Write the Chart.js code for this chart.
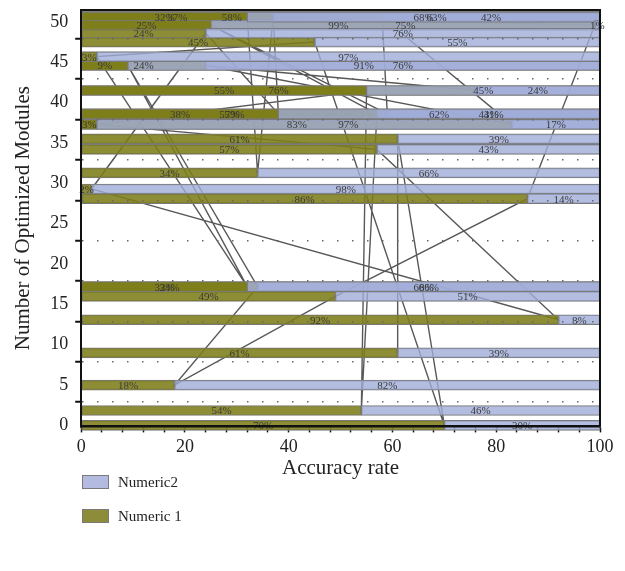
<!DOCTYPE html>
<html>
<head>
<meta charset="utf-8">
<script src="https://cdn.jsdelivr.net/npm/chart.js@4.4.0/dist/chart.umd.min.js"></script>
<style>
  html, body { margin: 0; padding: 0; background: #fff; }
  #wrap { position: relative; width: 625px; height: 571px; }
  #chart { position: absolute; left: 0; top: 0; }
  .legend { position: absolute; left: 82px; top: 470px; font-family: 'Liberation Serif', 'Times New Roman', serif; font-size: 15px; color: #222; }
  .legend .item { height: 24px; margin-bottom: 10px; display: flex; align-items: center; }
  .legend .box { display: inline-block; width: 25px; height: 12px; border: 1px solid #7a7a7a; margin-right: 9px; }
</style>
</head>
<body>
<div id="wrap">
  <canvas id="chart" width="625" height="481"></canvas>
  <div class="legend">
    <div class="item"><span class="box" style="background:#b3bce0"></span>Numeric2</div>
    <div class="item"><span class="box" style="background:#8d8c38"></span>Numeric 1</div>
  </div>
</div>
<script>
// rows in data order (series lines follow this order)
var yPos     = [41.5, 44.6, 37.3, 50.6, 38.6, 49.6, 38.6, 1.85, 41.5, 37.3, 34.2, 13.1, 29.3, 48.6, 38.6,
                50.6, 31.3, 50.6, 49.6, 28.1, 16.0, 5.0, 17.2, 44.6, 17.2, 45.7, 47.5, 0, 35.5, 9.0];
var numeric1 = [76, 24, 83, 58, 59, 25, 57, 54, 55, 3, 57, 92, 2, 24, 38,
                37, 34, 32, 99, 86, 49, 18, 34, 9, 32, 3, 45, 70, 61, 61];
var numeric2 = [24, 76, 17, 42, 41, 75, 43, 46, 45, 97, 43, 8, 98, 76, 62,
                63, 66, 68, 1, 14, 51, 82, 66, 91, 68, 97, 55, 30, 39, 39];
var xTicks = [0, 4, 8, 12, 16, 20, 24, 28, 32, 36, 40, 44, 48, 52, 56, 60, 64, 68, 72, 76, 80, 84, 88, 92, 96, 100];
var yTicks = [0, 5, 10, 15, 20, 25, 30, 35, 40, 45, 50];
var gridTicks = [2.9, 7.9, 12.9, 17.9, 22.9, 27.9, 32.9, 37.9, 42.9, 47.9];

var serif = "'Liberation Serif', 'Times New Roman', serif";
var yMin = -0.12, yMax = 51.48;

var n1Data = yPos.map(function(y, i) { return { y: y, x: [0, numeric1[i]] }; });
var n2Data = yPos.map(function(y, i) { return { y: y, x: [numeric1[i], numeric1[i] + numeric2[i]] }; });
var lineData = yPos.map(function(y, i) { return { x: numeric1[i], y: y }; });

var percentLabels = {
  id: 'percentLabels',
  afterDatasetsDraw: function(chart) {
    var ctx = chart.ctx;
    var sources = [numeric1, numeric2];
    ctx.save();
    ctx.font = '11px ' + serif;
    ctx.fillStyle = '#3a3a3a';
    ctx.textAlign = 'center';
    ctx.textBaseline = 'middle';
    [0, 1].forEach(function(di) {
      chart.getDatasetMeta(di).data.forEach(function(bar, i) {
        var p = bar.getProps(['x', 'y', 'base'], true);
        ctx.fillText(sources[di][i] + '%', (p.x + p.base) / 2, p.y + 1);
      });
    });
    ctx.restore();
  }
};

new Chart(document.getElementById('chart'), {
  data: {
    datasets: [{
      type: 'bar',
      label: 'Numeric 1',
      indexAxis: 'y',
      data: n1Data,
      backgroundColor: 'rgba(125,125,25,0.88)',
      borderColor: '#7a7a7a',
      borderWidth: 1,
      borderSkipped: false,
      barThickness: 10,
      grouped: false,
      clip: false,
      order: 2
    }, {
      type: 'bar',
      label: 'Numeric2',
      indexAxis: 'y',
      data: n2Data,
      backgroundColor: 'rgba(160,172,216,0.8)',
      borderColor: '#7a7a7a',
      borderWidth: 1,
      borderSkipped: false,
      barThickness: 10,
      grouped: false,
      clip: false,
      order: 1
    }, {
      type: 'line',
      label: 'series lines',
      data: lineData,
      borderColor: 'rgba(70,70,70,0.9)',
      borderWidth: 1.4,
      pointRadius: 0,
      tension: 0,
      fill: false,
      order: 10
    }]
  },
  options: {
    responsive: false,
    animation: false,
    layout: { padding: { top: 0, right: 25, left: 6, bottom: 0 } },
    plugins: {
      legend: { display: false },
      tooltip: { enabled: false }
    },
    scales: {
      x: {
        type: 'linear', position: 'bottom', min: 0, max: 100, offset: false,
        afterBuildTicks: function(s) { s.ticks = xTicks.map(function(v) { return { value: v }; }); },
        ticks: {
          autoSkip: false, maxRotation: 0, padding: 4,
          font: { family: serif, size: 18 }, color: '#222',
          callback: function(v) { return v % 20 === 0 ? v : ''; }
        },
        grid: { offset: false, drawOnChartArea: false, drawTicks: true, tickLength: 6, tickColor: '#111', tickWidth: 1.5 },
        border: { color: '#111', width: 2.5, z: 2 },
        title: { display: true, text: 'Accuracy rate', font: { family: serif, size: 21, lineHeight: 1.0 }, color: '#222', padding: { top: -4, bottom: 2 } }
      },
      y: {
        type: 'linear', position: 'left', min: yMin, max: yMax, offset: false,
        afterBuildTicks: function(s) {
          s.ticks = yTicks.concat(gridTicks).sort(function(a, b) { return a - b; })
            .map(function(v) { return { value: v }; });
        },
        ticks: {
          autoSkip: false, padding: 7,
          font: { family: serif, size: 18, lineHeight: 0.33 }, color: '#222',
          callback: function(v) { return yTicks.indexOf(v) >= 0 ? v : ''; }
        },
        grid: {
          offset: false, z: 1, lineWidth: 1.5, tickLength: 6, tickWidth: 2,
          color: function(c) { return c.tick && yTicks.indexOf(c.tick.value) >= 0 ? 'rgba(0,0,0,0)' : '#666'; },
          tickColor: function(c) { return c.tick && yTicks.indexOf(c.tick.value) >= 0 ? 'rgba(0,0,0,0)' : '#111'; }
        },
        border: { color: '#111', width: 2, dash: [1.5, 13.5], z: 2 },
        title: { display: true, text: 'Number of Optimized Modules', font: { family: serif, size: 21 }, color: '#222', padding: { top: 5, bottom: 7 } }
      },
      xTop: {
        type: 'linear', position: 'top', min: 0, max: 100, offset: false,
        ticks: { display: false },
        grid: { drawOnChartArea: false, drawTicks: false },
        border: { color: '#111', width: 2.5, z: 2 }
      },
      yRight: {
        type: 'linear', position: 'right', min: yMin, max: yMax, offset: false,
        ticks: { display: false },
        grid: { drawOnChartArea: false, drawTicks: false },
        border: { color: '#111', width: 2, z: 2 }
      }
    }
  },
  plugins: [percentLabels]
});
</script>
</body>
</html>
